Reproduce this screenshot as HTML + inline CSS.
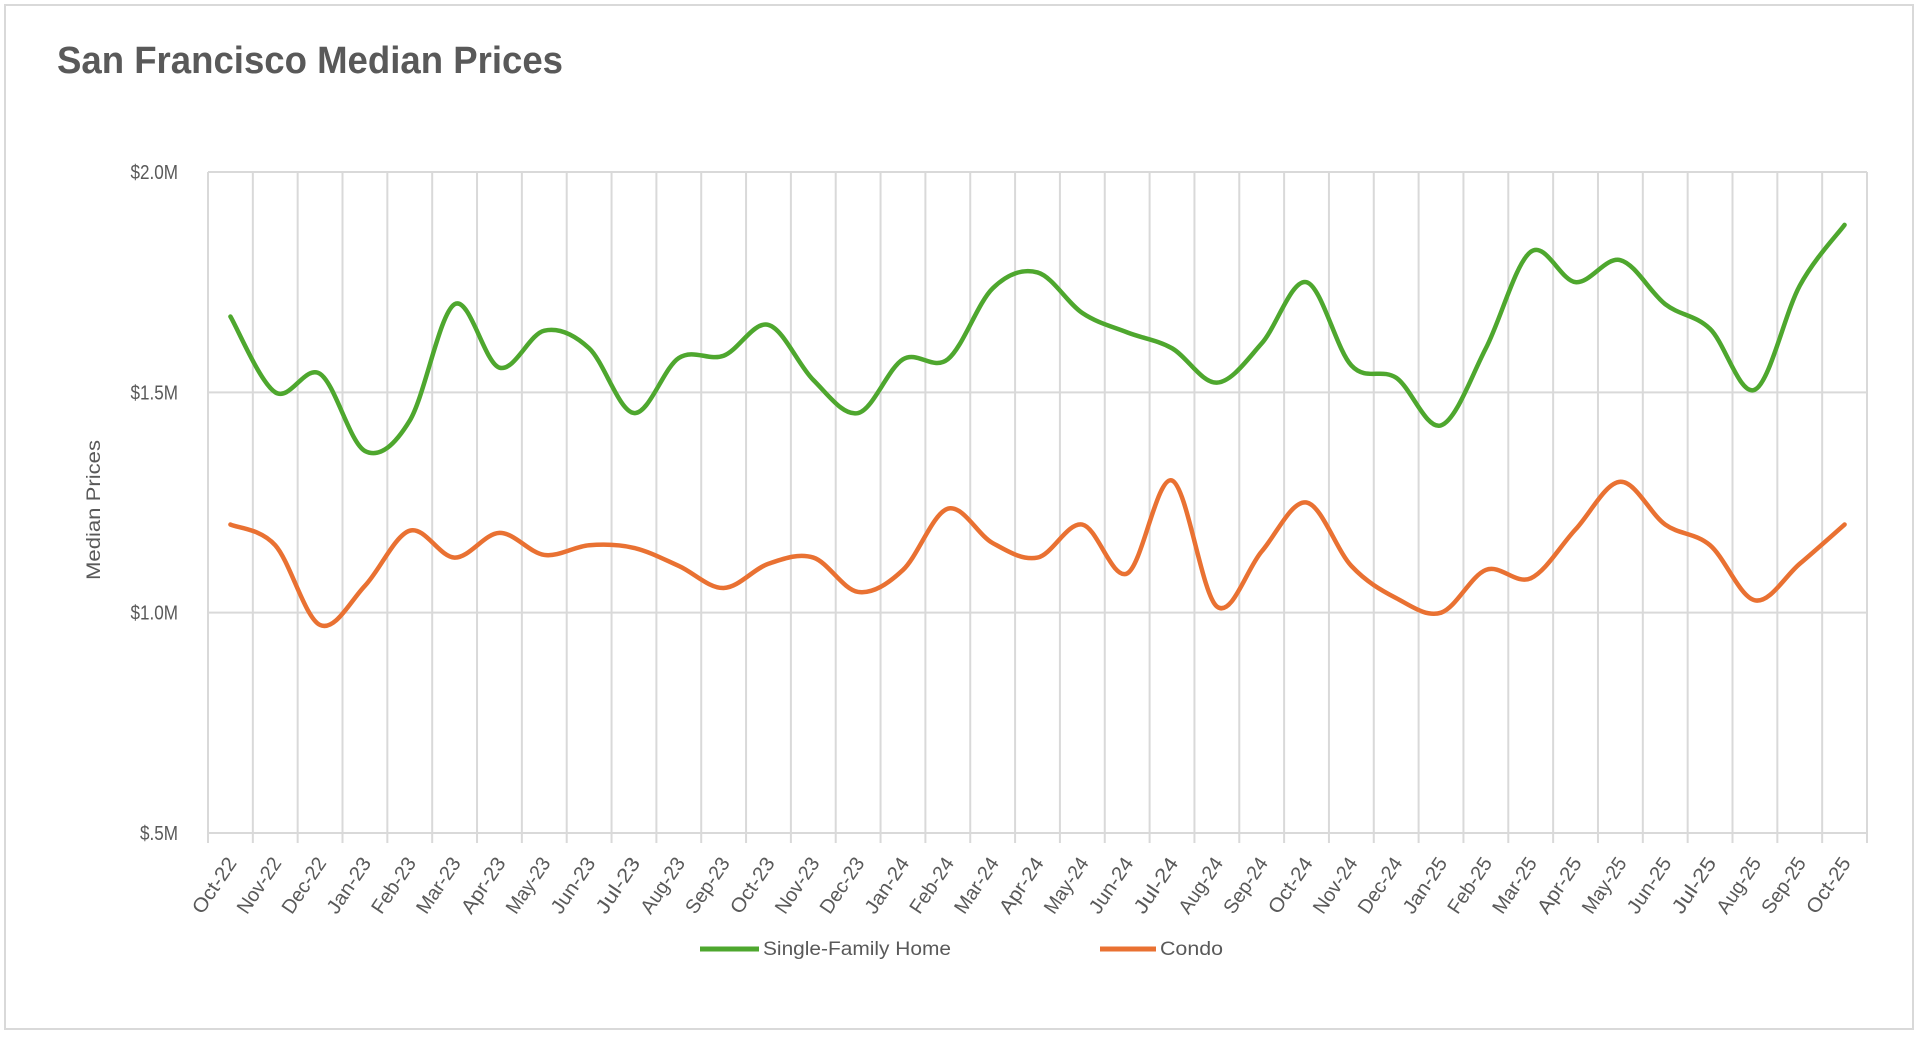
<!DOCTYPE html>
<html><head><meta charset="utf-8"><style>
html,body{margin:0;padding:0;background:#fff;}
svg{display:block;}
text{font-family:"Liberation Sans",Arial,sans-serif;}
</style></head><body>
<svg id="chart" width="1920" height="1041" viewBox="0 0 1920 1041">
<rect x="5" y="5" width="1908" height="1024" fill="#fff" stroke="#d9d9d9" stroke-width="2"/>
<text x="57" y="73" font-size="38" font-weight="bold" fill="#595959" textLength="506" lengthAdjust="spacingAndGlyphs">San Francisco Median Prices</text>
<text transform="translate(100,510) rotate(-90)" text-anchor="middle" font-size="19" fill="#595959" textLength="140" lengthAdjust="spacingAndGlyphs">Median Prices</text>
<g id="grid"></g><g id="ylabels"></g><g id="xlabels"></g><g id="series"></g>
<g>
<line x1="700" y1="949" x2="759" y2="949" stroke="#4ea72e" stroke-width="5"/>
<text x="763" y="955" font-size="19" fill="#595959" textLength="188" lengthAdjust="spacingAndGlyphs">Single-Family Home</text>
<line x1="1100" y1="949" x2="1156" y2="949" stroke="#e97132" stroke-width="5"/>
<text x="1160" y="955" font-size="19" fill="#595959" textLength="63" lengthAdjust="spacingAndGlyphs">Condo</text>
</g>
</svg>
<script>
const categories = ["Oct-22","Nov-22","Dec-22","Jan-23","Feb-23","Mar-23","Apr-23","May-23","Jun-23","Jul-23","Aug-23","Sep-23","Oct-23","Nov-23","Dec-23","Jan-24","Feb-24","Mar-24","Apr-24","May-24","Jun-24","Jul-24","Aug-24","Sep-24","Oct-24","Nov-24","Dec-24","Jan-25","Feb-25","Mar-25","Apr-25","May-25","Jun-25","Jul-25","Aug-25","Sep-25","Oct-25"];
const singleFamily = [1.672,1.50,1.542,1.367,1.436,1.70,1.556,1.64,1.60,1.453,1.578,1.583,1.653,1.528,1.453,1.575,1.575,1.736,1.772,1.68,1.636,1.60,1.522,1.611,1.75,1.561,1.533,1.425,1.60,1.819,1.75,1.80,1.70,1.644,1.506,1.742,1.88];
const condo = [1.20,1.153,0.972,1.061,1.186,1.125,1.181,1.131,1.153,1.147,1.106,1.056,1.111,1.125,1.047,1.097,1.236,1.158,1.125,1.20,1.089,1.30,1.014,1.139,1.25,1.106,1.033,1.00,1.097,1.078,1.189,1.297,1.20,1.153,1.028,1.111,1.20];
const yTicks = [0.5,1.0,1.5,2.0];
const yTickLabels = ["$.5M","$1.0M","$1.5M","$2.0M"];

const NS="http://www.w3.org/2000/svg";
const L=208,R=1867,T=172,B=833,yMin=0.5,yMax=2.0;
const band=(R-L)/categories.length;
function xs(i){return L+band*(i+0.5);}
function ys(v){return B-(v-yMin)/(yMax-yMin)*(B-T);}
function mk(tag,attrs,parent){const e=document.createElementNS(NS,tag);for(const k in attrs)e.setAttribute(k,attrs[k]);parent.appendChild(e);return e;}
const grid=document.getElementById('grid');
yTicks.forEach((v,i)=>{
  const ln=mk('line',{x1:L,x2:R,y1:ys(v),y2:ys(v),stroke:'#d9d9d9','stroke-width':2},grid);
  
  
  const t=mk('text',{x:178,y:ys(v)+7,'text-anchor':'end','font-size':20,fill:'#595959',textLength:yTickLabels[i].length*9.5,lengthAdjust:'spacingAndGlyphs'},document.getElementById('ylabels'));
  t.textContent=yTickLabels[i];
  
  
});
for(let i=0;i<=categories.length;i++){
  const x=L+band*i;
  const ln=mk('line',{x1:x,x2:x,y1:T,y2:B+10,stroke:'#d9d9d9','stroke-width':2},grid);
  
  
}
categories.forEach((c,i)=>{
  const x=xs(i)+7;
  const t=mk('text',{transform:`translate(${x},${B+30}) rotate(-56)`,'text-anchor':'end','font-size':20,fill:'#595959',textLength:c.length*10.5,lengthAdjust:'spacingAndGlyphs'},document.getElementById('xlabels'));
  t.textContent=c;
  
  
});
function smooth(vals){
  const p=vals.map((v,i)=>[xs(i),ys(v)]);
  let d=`M${p[0][0]},${p[0][1]}`;
  for(let i=0;i<p.length-1;i++){
    const p0=p[i-1]||p[i],p1=p[i],p2=p[i+1],p3=p[i+2]||p2;
    const k=1/6;
    d+=` C${p1[0]+(p2[0]-p0[0])*k},${p1[1]+(p2[1]-p0[1])*k} ${p2[0]-(p3[0]-p1[0])*k},${p2[1]-(p3[1]-p1[1])*k} ${p2[0]},${p2[1]}`;
  }
  return d;
}
const sg=document.getElementById('series');
const l1=mk('path',{d:smooth(singleFamily),fill:'none',stroke:'#4ea72e','stroke-width':4.5,'stroke-linecap':'round','stroke-linejoin':'round'},sg);


const l2=mk('path',{d:smooth(condo),fill:'none',stroke:'#e97132','stroke-width':4.5,'stroke-linecap':'round','stroke-linejoin':'round'},sg);


</script>
</body></html>
